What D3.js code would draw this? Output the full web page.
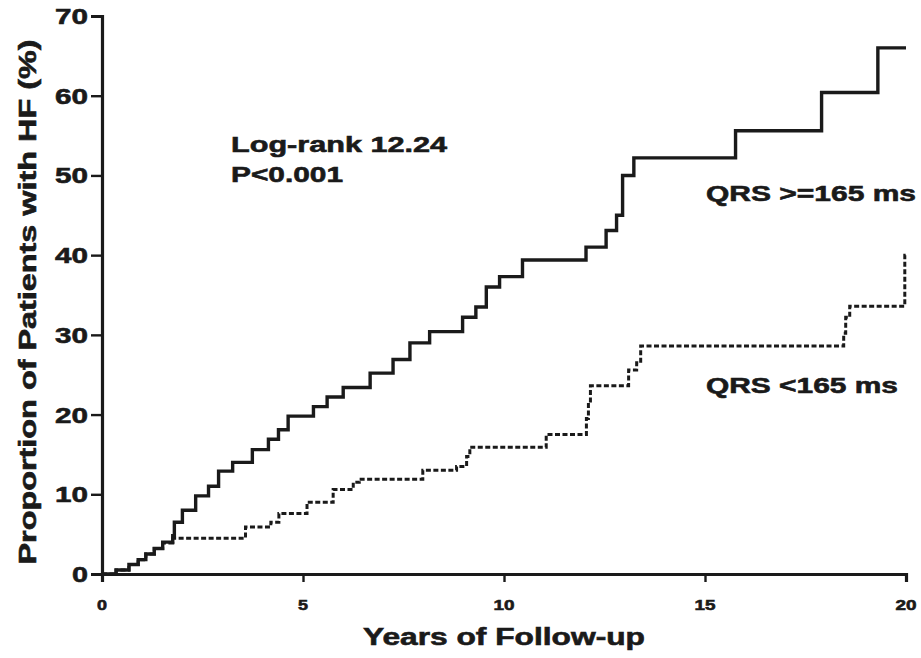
<!DOCTYPE html>
<html>
<head>
<meta charset="utf-8">
<script src="https://cdn.jsdelivr.net/npm/d3@7/dist/d3.min.js"></script>
<style>
  html, body { margin: 0; padding: 0; background: #fff; }
  svg text { font-family: "Liberation Sans", Arial, sans-serif; font-weight: bold; fill: #1a1a1a; stroke: #1a1a1a; stroke-width: 0.6px; }
</style>
</head>
<body>
<svg id="chart" width="921" height="658"></svg>
<script>
// Cumulative incidence of heart failure, step points (years, %)
const wideTimes = [0, 0.35, 0.67, 0.9, 1.09, 1.3, 1.51, 1.76, 1.8, 2.0, 2.33, 2.65, 2.9, 3.25, 3.74, 4.14, 4.39, 4.63,
  5.26, 5.6, 6.0, 6.67, 7.24, 7.66, 8.15, 8.97, 9.3, 9.56, 9.89, 10.46, 12.04, 12.54, 12.8, 12.95, 13.23,
  15.76, 17.9, 19.3, 20];
const wideValues = [0, 0.5, 1.2, 1.8, 2.5, 3.2, 4.0, 4.8, 6.5, 8.0, 9.8, 11.0, 12.9, 14.0, 15.6, 16.9, 18.1, 19.8,
  21.0, 22.2, 23.4, 25.2, 26.9, 29.0, 30.4, 32.2, 33.5, 36.0, 37.3, 39.4, 41.0, 43.1, 45.0, 50.0, 52.2,
  55.6, 60.4, 66.0, 66.0];

const narrowTimes = [0, 0.35, 0.67, 0.9, 1.09, 1.3, 1.51, 1.76, 3.57, 4.2, 4.4, 5.1, 5.75, 6.25, 6.4, 7.98, 8.82,
  9.07, 9.15, 11.05, 12.05, 12.1, 12.15, 13.1, 13.3, 13.4, 18.45, 18.5, 18.6, 19.97, 20];
const narrowValues = [0, 0.5, 1.2, 1.8, 2.5, 3.2, 3.9, 4.5, 5.9, 6.5, 7.6, 9.0, 10.6, 11.5, 11.9, 13.0, 13.5,
  14.75, 15.9, 17.5, 19.5, 21.5, 23.6, 25.6, 26.5, 28.6, 30.2, 32.2, 33.6, 40.0, 40.0];

const xTicks = [0, 5, 10, 15, 20];
const yTicks = [0, 10, 20, 30, 40, 50, 60, 70];

const xTitle = "Years of  Follow-up";
const yTitle = "Proportion of Patients with HF (%)";
const statLines = ["Log-rank 12.24", "P<0.001"];
const wideLabel = "QRS >=165 ms";
const narrowLabel = "QRS <165 ms";

const svg = d3.select("#chart");
const x = d3.scaleLinear().domain([0, 20]).range([102, 906]);
const y = d3.scaleLinear().domain([0, 70]).range([574, 16]);
const ink = "#1a1a1a";

// stretched bold text helper
function label(g, str, px, py, len, size, anchor) {
  return g.append("text")
    .attr("x", px).attr("y", py)
    .attr("font-size", size)
    .attr("text-anchor", anchor || "start")
    .attr("textLength", len)
    .attr("lengthAdjust", "spacingAndGlyphs")
    .text(str);
}

// axes
const xAxis = svg.append("g").attr("transform", `translate(0,${y(0)})`)
  .call(d3.axisBottom(x).tickValues(xTicks).tickSize(8).tickFormat(""));
const yAxis = svg.append("g").attr("transform", `translate(${x(0)},0)`)
  .call(d3.axisLeft(y).tickValues(yTicks).tickSize(11).tickFormat(""));
[xAxis, yAxis].forEach(a => {
  a.select(".domain").attr("stroke", ink).attr("stroke-width", 3.2);
  a.selectAll(".tick line").attr("stroke", ink).attr("stroke-width", 2.4);
});

const tl = svg.append("g");
xTicks.forEach(t => {
  const s = String(t);
  label(tl, s, x(t), 610, s.length > 1 ? 21 : 10, 15, "middle");
});
yTicks.forEach(v => {
  const s = String(v);
  label(tl, s, 88, y(v) + 8, s.length > 1 ? 33 : 16, 22, "end");
});

// axis titles
label(svg, xTitle, 504, 645, 282, 23, "middle");
label(svg.append("g").attr("transform", "translate(36,302) rotate(-90)"), yTitle, 0, 0, 525, 23, "middle");

// curves
const line = d3.line().x(d => x(d[0])).y(d => y(d[1])).curve(d3.curveStepAfter);
const wide = d3.zip(wideTimes, wideValues);
const narrow = d3.zip(narrowTimes, narrowValues);

svg.append("path").datum(narrow)
  .attr("d", line).attr("fill", "none")
  .attr("stroke", ink).attr("stroke-width", 3)
  .attr("stroke-dasharray", "5,2.5");

svg.append("path").datum(wide)
  .attr("d", line).attr("fill", "none")
  .attr("stroke", ink).attr("stroke-width", 3.4)
  .attr("stroke-linejoin", "miter");

// annotations
label(svg, statLines[0], 231, 152, 216, 22);
label(svg, statLines[1], 231, 182, 112, 22);
label(svg, wideLabel, 706, 201, 210, 22);
label(svg, narrowLabel, 706, 393, 192, 22);
</script>
</body>
</html>
